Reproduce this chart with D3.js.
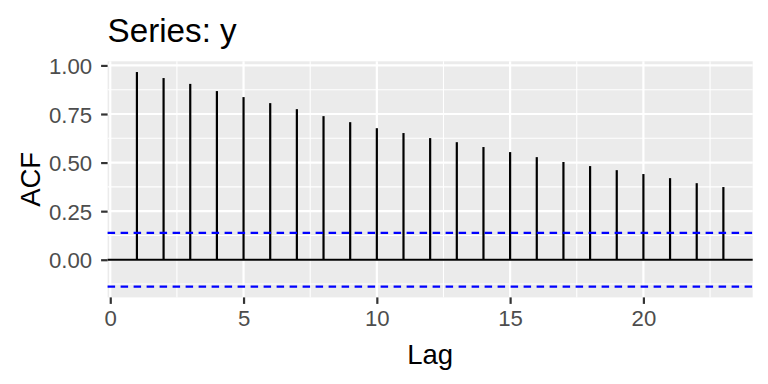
<!DOCTYPE html>
<html><head><meta charset="utf-8">
<script src="https://cdn.jsdelivr.net/npm/d3@7"></script>
<style>body{margin:0;background:#fff}svg{display:block}text{font-family:"Liberation Sans",Arial,sans-serif}</style>
</head><body><svg id="c" width="768" height="384"></svg>
<script>
const lags = [1,2,3,4,5,6,7,8,9,10,11,12,13,14,15,16,17,18,19,20,21,22,23];
const acfValues = [0.966,0.935,0.905,0.868,0.837,0.806,0.775,0.739,0.708,0.677,0.652,0.626,0.605,0.580,0.554,0.528,0.503,0.482,0.461,0.441,0.420,0.394,0.374];
const ciLimit = 0.1386;
const xTicks = [0,5,10,15,20];
const yTicks = [0,0.25,0.5,0.75,1.0];
const yTickLabels = ["0.00","0.25","0.50","0.75","1.00"];
const title = "Series: y", xLabel = "Lag", yLabel = "ACF";

const svg = d3.select("#c");
const P = {l:107.6, r:752.7, t:61.3, b:297.4};
const xr = [d3.min(lags), d3.max(lags)], xe = (xr[1]-xr[0])*0.05;
const x = d3.scaleLinear().domain([xr[0]-xe, xr[1]+xe]).range([P.l,P.r]);
const yr = [-ciLimit, d3.max(acfValues)], ye = (yr[1]-yr[0])*0.05;
const y = d3.scaleLinear().domain([yr[0]-ye, yr[1]+ye]).range([P.b,P.t]);

svg.append("rect").attr("x",P.l).attr("y",P.t).attr("width",P.r-P.l).attr("height",P.b-P.t).attr("fill","#EBEBEB");
const g = svg.append("g");
const xMinor = d3.range(2.5, 25, 5).filter(v=>v>x.domain()[0]&&v<x.domain()[1]);
const yMinor = d3.range(-0.125, 1.2, 0.25).filter(v=>v>y.domain()[0]&&v<y.domain()[1]);
g.selectAll(".xm").data(xMinor).join("line").attr("x1",d=>x(d)).attr("x2",d=>x(d)).attr("y1",P.t).attr("y2",P.b).attr("stroke","#fff").attr("stroke-width",1.1);
g.selectAll(".ym").data(yMinor).join("line").attr("y1",d=>y(d)).attr("y2",d=>y(d)).attr("x1",P.l).attr("x2",P.r).attr("stroke","#fff").attr("stroke-width",1.1);
g.selectAll(".xg").data(xTicks).join("line").attr("x1",d=>x(d)).attr("x2",d=>x(d)).attr("y1",P.t).attr("y2",P.b).attr("stroke","#fff").attr("stroke-width",2.2);
g.selectAll(".yg").data(yTicks).join("line").attr("y1",d=>y(d)).attr("y2",d=>y(d)).attr("x1",P.l).attr("x2",P.r).attr("stroke","#fff").attr("stroke-width",2.2);

svg.append("line").attr("x1",P.l).attr("x2",P.r).attr("y1",y(0)).attr("y2",y(0)).attr("stroke","#000").attr("stroke-width",2);
svg.selectAll(".bar").data(lags).join("line").attr("x1",(d)=>x(d)).attr("x2",d=>x(d))
  .attr("y1",y(0)).attr("y2",(d,i)=>y(acfValues[i])).attr("stroke","#000").attr("stroke-width",2.2);
[ciLimit,-ciLimit].forEach(v=>{
  svg.append("line").attr("x1",P.l).attr("x2",P.r).attr("y1",y(v)).attr("y2",y(v))
   .attr("stroke","#0000FF").attr("stroke-width",2.2).attr("stroke-dasharray","7.5,5.5");
});

const ax = svg.append("g").attr("transform",`translate(0,${P.b})`).call(d3.axisBottom(x).tickValues(xTicks).tickSize(6.5).tickPadding(5));
const ay = svg.append("g").attr("transform",`translate(${P.l},0)`).call(d3.axisLeft(y).tickValues(yTicks).tickFormat((d,i)=>yTickLabels[i]).tickSize(6.5).tickPadding(9));
[ax,ay].forEach(a=>{a.select(".domain").remove();a.selectAll("line").attr("stroke","#333").attr("stroke-width",2.2);
 a.selectAll("text").attr("fill","#4D4D4D").attr("font-size",22.2).attr("font-family","Liberation Sans, Arial, sans-serif");});
ax.selectAll("text").attr("dy","0.75em");
ay.selectAll("text").attr("dy","0.36em");

svg.append("text").attr("x",(P.l+P.r)/2).attr("y",364).attr("text-anchor","middle").attr("font-size",27.5).attr("fill","#000").text(xLabel);
svg.append("text").attr("transform",`translate(40,${(P.t+P.b)/2}) rotate(-90)`).attr("text-anchor","middle").attr("font-size",27.5).attr("fill","#000").text(yLabel);
svg.append("text").attr("x",P.l).attr("y",42).attr("font-size",33.2).attr("fill","#000").text(title);
</script></body></html>
